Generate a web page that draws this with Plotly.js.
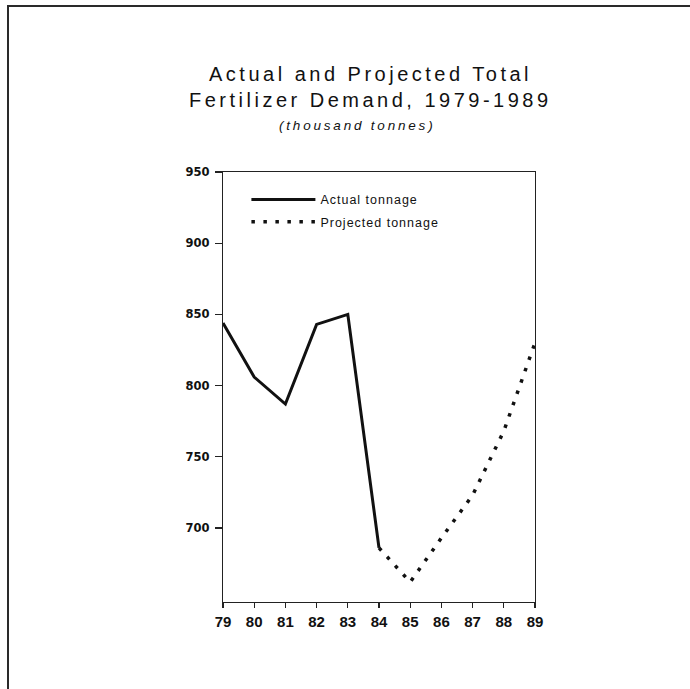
<!DOCTYPE html>
<html>
<head>
<meta charset="utf-8">
<script src="https://cdn.plot.ly/plotly-3.0.1.min.js"></script>
<style>
  html, body { margin: 0; padding: 0; background: #fff; }
  #wrap { position: relative; width: 690px; height: 689px; overflow: hidden; }
  #chart { position: absolute; left: 0; top: 0; width: 690px; height: 689px; }
  #frame { position: absolute; left: 7px; top: 5px; width: 700px; height: 700px;
           border-left: 2px solid #2a2a2a; border-top: 2px solid #2a2a2a; pointer-events: none; }
</style>
</head>
<body>
<div id="wrap">
  <div id="chart"></div>
  <div id="frame"></div>
</div>
<script>
// ---- data ----
const actualYears = [79, 80, 81, 82, 83, 84];
const actualValues = [844, 806, 787, 843, 850, 686];
const projectedYears = [84, 85, 86, 87, 88, 89];
const projectedValues = [686, 662, 693, 723, 768, 830];
const xTickValues = [79, 80, 81, 82, 83, 84, 85, 86, 87, 88, 89];
const xTickLabels = ["79", "80", "81", "82", "83", "84", "85", "86", "87", "88", "89"];
const yTickValues = [700, 750, 800, 850, 900, 950];
const titleLines = ["Actual and Projected Total", "Fertilizer Demand, 1979-1989"];
const subtitle = "(thousand tonnes)";
const seriesNames = ["Actual tonnage", "Projected tonnage"];

function spaced(t, px) { return '<span style="letter-spacing:' + px + 'px">' + t + '</span>'; }

const traces = [
  {
    x: actualYears, y: actualValues, type: 'scatter', mode: 'lines',
    name: spaced(seriesNames[0], 1), legendgroup: 'a',
    line: { color: '#111', width: 3 }
  },
  {
    x: projectedYears, y: projectedValues, type: 'scatter', mode: 'lines',
    name: spaced(seriesNames[1], 1), legendgroup: 'p',
    line: { color: '#111', width: 3.5, dash: '3.5px,8.5px' }
  }
];

const layout = {
  width: 690, height: 689,
  margin: { l: 223, r: 155, t: 172, b: 87 },
  paper_bgcolor: '#ffffff', plot_bgcolor: '#ffffff',
  font: { family: 'Liberation Sans, Arial, sans-serif', color: '#111' },
  showlegend: true,
  legend: {
    x: 0.075, y: 0.97, xanchor: 'left', yanchor: 'top',
    bgcolor: 'rgba(0,0,0,0)', borderwidth: 0, itemwidth: 64,
    font: { family: 'Liberation Sans, Arial, sans-serif', size: 12.5, color: '#111' },
    traceorder: 'grouped', tracegroupgap: 3
  },
  xaxis: {
    range: [79, 89], tickmode: 'array', tickvals: xTickValues, ticktext: xTickLabels,
    showgrid: false, zeroline: false, showline: true, linecolor: '#222', linewidth: 1.2,
    mirror: true, ticks: 'outside', ticklen: 5, tickwidth: 1.2, tickcolor: '#222',
    ticklabelstandoff: 1,
    tickfont: { family: 'Liberation Sans Narrow, Liberation Sans, Arial, sans-serif', size: 15, color: '#111', weight: 'bold' }
  },
  yaxis: {
    range: [648, 950], tickmode: 'array', tickvals: yTickValues,
    showgrid: false, zeroline: false, showline: true, linecolor: '#222', linewidth: 1.2,
    mirror: true, ticks: 'outside', ticklen: 7, tickwidth: 1.2, tickcolor: '#222',
    ticklabelstandoff: 3,
    tickfont: { family: 'DejaVu Sans, sans-serif', size: 11.5, color: '#111', weight: 'bold' }
  },
  annotations: [
    { xref: 'paper', yref: 'paper', x: 0.472, y: 1.228, xanchor: 'center', yanchor: 'middle',
      showarrow: false, text: spaced(titleLines[0], 3.5),
      font: { family: 'Liberation Sans, Arial, sans-serif', size: 20, color: '#111' } },
    { xref: 'paper', yref: 'paper', x: 0.472, y: 1.167, xanchor: 'center', yanchor: 'middle',
      showarrow: false, text: spaced(titleLines[1], 3.5),
      font: { family: 'Liberation Sans, Arial, sans-serif', size: 20, color: '#111' } },
    { xref: 'paper', yref: 'paper', x: 0.43, y: 1.109, xanchor: 'center', yanchor: 'middle',
      showarrow: false, text: '<i>' + spaced(subtitle, 2.8) + '</i>',
      font: { family: 'Liberation Sans, Arial, sans-serif', size: 13.5, color: '#111' } }
  ]
};

Plotly.newPlot('chart', traces, layout, { displayModeBar: false, staticPlot: true });
</script>
</body>
</html>
